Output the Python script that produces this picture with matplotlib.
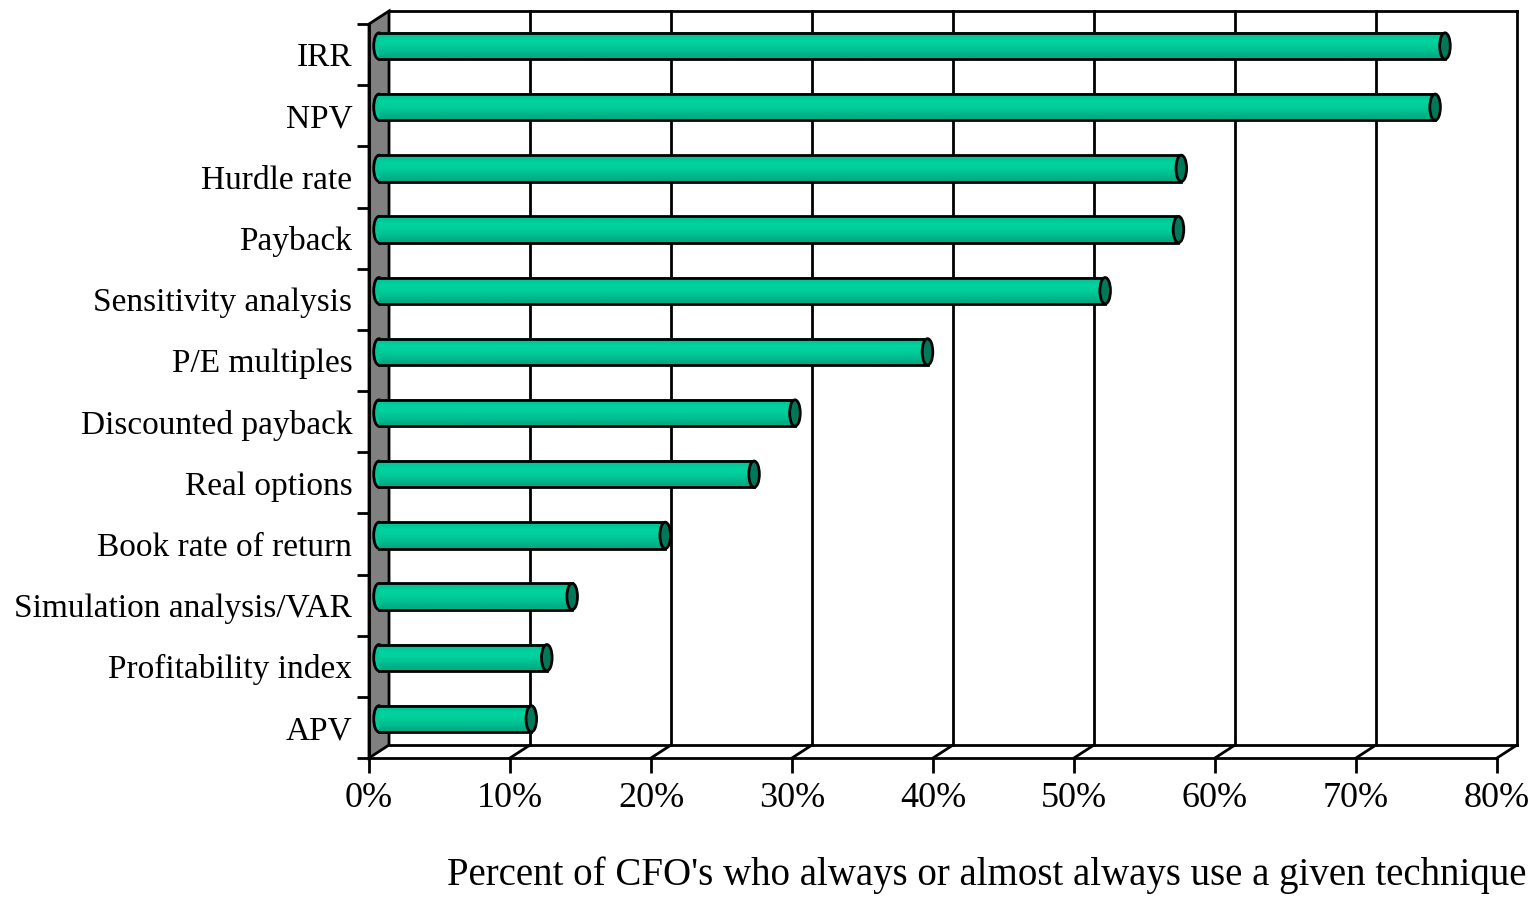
import matplotlib.pyplot as plt
import numpy as np
from matplotlib.patches import Ellipse, Polygon
from matplotlib.colors import to_rgb

plt.rcParams['font.family'] = ['Liberation Serif', 'DejaVu Serif']

techniques = ["IRR", "NPV", "Hurdle rate", "Payback", "Sensitivity analysis",
              "P/E multiples", "Discounted payback", "Real options",
              "Book rate of return", "Simulation analysis/VAR",
              "Profitability index", "APV"]
percent = [75.6, 74.9, 56.9, 56.7, 51.5, 38.9, 29.5, 26.6, 20.3, 13.7, 11.9, 10.8]
xticks = [0, 10, 20, 30, 40, 50, 60, 70, 80]
xlabel = "Percent of CFO's who always or almost always use a given technique"

W, H = 1533, 901
fig = plt.figure(figsize=(W / 100, H / 100), dpi=100)
ax = fig.add_axes([369 / W, (H - 758) / H, (1497 - 369) / W, (758 - 24) / H])
n = len(techniques)
ax.set_xlim(0, 80)
ax.set_ylim(n - 0.5, -0.5)

# depth of the fake 3d box, in data units
DX = 1.42
DY = 0.2125
ybot, ytop = n - 0.5, -0.5
LW = 2.0

# gray side wall
ax.add_patch(Polygon([(0, ybot), (0, ytop), (DX, ytop - DY), (DX, ybot - DY)],
                     closed=True, facecolor='#808080', edgecolor='black',
                     lw=LW, clip_on=False, zorder=1))
# back wall outline + gridlines
for x in xticks[1:]:
    ax.plot([x + DX, x + DX], [ybot - DY, ytop - DY], color='black', lw=LW,
            clip_on=False, zorder=1)
    ax.plot([x, x + DX], [ybot, ybot - DY], color='black', lw=LW,
            clip_on=False, zorder=1)
ax.plot([DX, 80 + DX], [ytop - DY, ytop - DY], color='black', lw=LW,
        clip_on=False, zorder=1)
ax.plot([DX, 80 + DX], [ybot - DY, ybot - DY], color='black', lw=LW,
        clip_on=False, zorder=1)

# cylinder bars
grad = ["#00C493", "#00D3A0", "#00CD9A", "#00BE90", "#00AC84"]
gimg = np.array([to_rgb(c) for c in grad])[:, None, :]
hh = 0.215
cap_w = 0.75
x0 = DX / 2
for i, v in enumerate(percent):
    yc = i - 0.14
    x1 = v + DX / 2
    ax.add_patch(Ellipse((x0, yc), cap_w, 2 * hh, facecolor='#00C896',
                         edgecolor='black', lw=LW, zorder=3))
    ax.imshow(gimg, extent=(x0, x1, yc + hh, yc - hh), aspect='auto',
              interpolation='bilinear', zorder=4)
    ax.plot([x0, x1], [yc - hh, yc - hh], color='black', lw=LW, zorder=5)
    ax.plot([x0, x1], [yc + hh, yc + hh], color='black', lw=LW, zorder=5)
    ax.add_patch(Ellipse((x1, yc), cap_w, 2 * hh, facecolor='#00785A',
                         edgecolor='black', lw=LW, zorder=6))

ax.set_xlim(0, 80)
ax.set_ylim(n - 0.5, -0.5)

for s in ['top', 'right']:
    ax.spines[s].set_visible(False)
for s in ['left', 'bottom']:
    ax.spines[s].set_linewidth(LW)
    ax.spines[s].set_zorder(2)

ax.set_xticks(xticks)
ax.set_xticklabels([f"{x}%" for x in xticks], fontsize=26)
ax.tick_params(axis='x', direction='out', length=11, width=LW, pad=6)

ax.set_yticks(range(n))
ax.set_yticklabels(techniques, fontsize=24)
ax.set_yticks(np.arange(-0.5, n, 1.0), minor=True)
ax.tick_params(axis='y', which='major', length=0, pad=12)
ax.tick_params(axis='y', which='minor', direction='out', length=9, width=LW)

fig.text(987 / W, 1 - 875 / H, xlabel, fontsize=28, ha='center', va='center')

fig.savefig("out.png", dpi=100)
